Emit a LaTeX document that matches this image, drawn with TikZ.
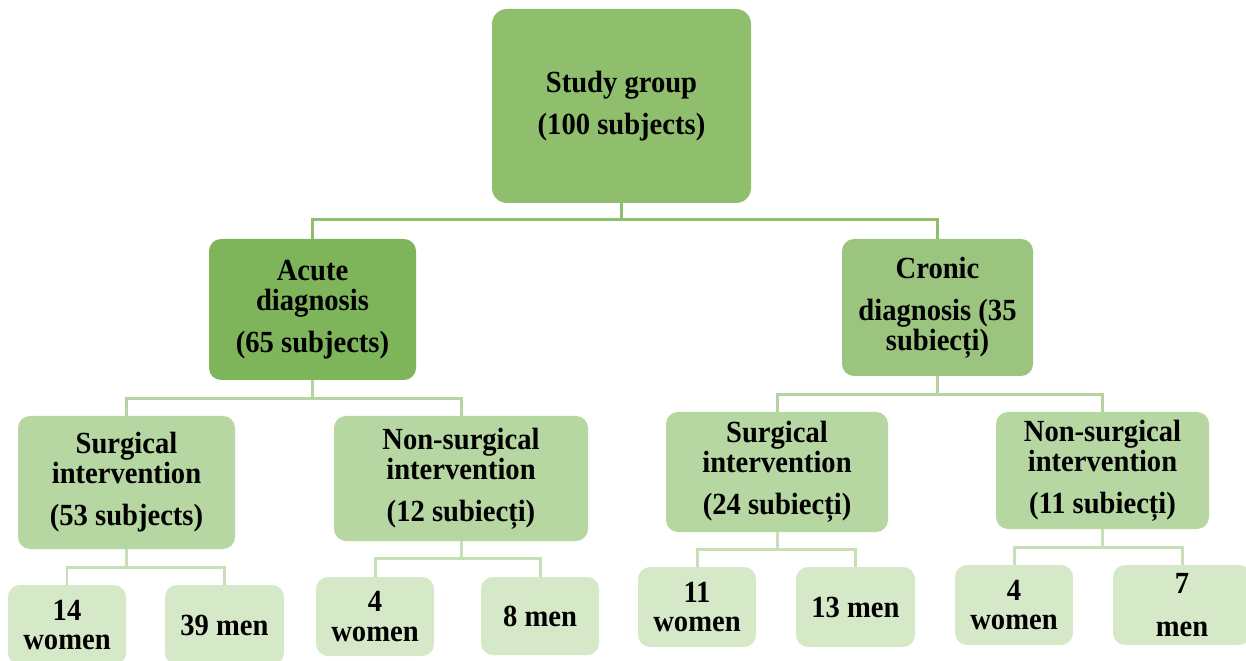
\documentclass[tikz,border=0pt]{standalone}
\usepackage{fontspec}
\setmainfont{Liberation Serif}[FakeStretch=0.93]
\definecolor{verderaiz}{RGB}{143,190,109}
\definecolor{verdeagudo}{RGB}{127,181,90}
\definecolor{verdecronico}{RGB}{155,197,126}
\definecolor{verdemedio}{RGB}{182,214,162}
\definecolor{verdeclaro}{RGB}{213,232,200}
\definecolor{lineamedia}{RGB}{181,212,160}
\definecolor{lineaclara}{RGB}{198,223,182}
\tikzset{
  caja/.style 2 args={rounded corners=0.24cm, align=center, inner sep=0pt,
    minimum width=#1*0.02cm, minimum height=#2*0.02cm,
    font=\fontsize{17.5}{17}\selectfont\bfseries},
  raiz/.style={fill=verderaiz, rounded corners=0.3cm},
  agudo/.style={fill=verdeagudo},
  cronico/.style={fill=verdecronico},
  medio/.style={fill=verdemedio},
  hoja/.style={fill=verdeclaro},
  rama/.style={line width=1.7pt, draw=#1},
}
\begin{document}
\begin{tikzpicture}[x=0.02cm, y=-0.02cm]
  \useasboundingbox (0,0) rectangle (1246,661);

  % Grupo de estudio
  \node (root) at (621.5,106) [caja={259}{194}, raiz] {Study group\\[7pt](100 subjects)};

  % Diagnosticos
  \node (acute) at (312.5,309.5) [caja={207}{141}, agudo] {Acute\\diagnosis\\[7pt](65 subjects)};
  \node (cronic) at (937.5,307.5) [caja={191}{137}, cronico] {Cronic\\[7pt]diagnosis (35\\subiecți)};

  % Intervenciones
  \node (surg1) at (126.5,482.5) [caja={217}{133}, medio] {Surgical\\intervention\\[7pt](53 subjects)};
  \node (nons1) at (461,478.5) [caja={254}{125}, medio] {Non-surgical\\intervention\\[7pt](12 subiecți)};
  \node (surg2) at (777,472) [caja={222}{120}, medio] {Surgical\\intervention\\[7pt](24 subiecți)};
  \node (nons2) at (1102.5,470.5) [caja={213}{117}, medio] {Non-surgical\\intervention\\[7pt](11 subiecți)};

  % Hojas
  \node (w1) at (67,625) [caja={118}{80}, hoja] {14\\women};
  \node (m1) at (224.5,625) [caja={119}{80}, hoja] {39 men};
  \node (w2) at (375,616.5) [caja={118}{79}, hoja] {4\\women};
  \node (m2) at (540,616) [caja={118}{78}, hoja] {8 men};
  \node (w3) at (697,607) [caja={118}{80}, hoja] {11\\women};
  \node (m3) at (855.5,607) [caja={119}{80}, hoja] {13 men};
  \node (w4) at (1014,605) [caja={118}{80}, hoja] {4\\women};
  \node (m4) at (1182,605) [caja={138}{80}, hoja] {7\\[7pt]men};

  % Aristas
  \draw[rama=verderaiz] (root.south) -- ++(0,16) -| (acute.north);
  \draw[rama=verderaiz] (root.south) -- ++(0,16) -| (cronic.north);

  \draw[rama=lineamedia] (acute.south) -- ++(0,18) -| (surg1.north);
  \draw[rama=lineamedia] (acute.south) -- ++(0,18) -| (nons1.north);
  \draw[rama=lineamedia] (cronic.south) -- ++(0,18) -| (surg2.north);
  \draw[rama=lineamedia] (cronic.south) -- ++(0,18) -| (nons2.north);

  \draw[rama=lineaclara] (surg1.south) -- ++(0,18) -| (w1.north);
  \draw[rama=lineaclara] (surg1.south) -- ++(0,18) -| (m1.north);
  \draw[rama=lineaclara] (nons1.south) -- ++(0,17) -| (w2.north);
  \draw[rama=lineaclara] (nons1.south) -- ++(0,17) -| (m2.north);
  \draw[rama=lineaclara] (surg2.south) -- ++(0,17) -| (w3.north);
  \draw[rama=lineaclara] (surg2.south) -- ++(0,17) -| (m3.north);
  \draw[rama=lineaclara] (nons2.south) -- ++(0,18) -| (w4.north);
  \draw[rama=lineaclara] (nons2.south) -- ++(0,18) -| (m4.north);
\end{tikzpicture}
\end{document}
